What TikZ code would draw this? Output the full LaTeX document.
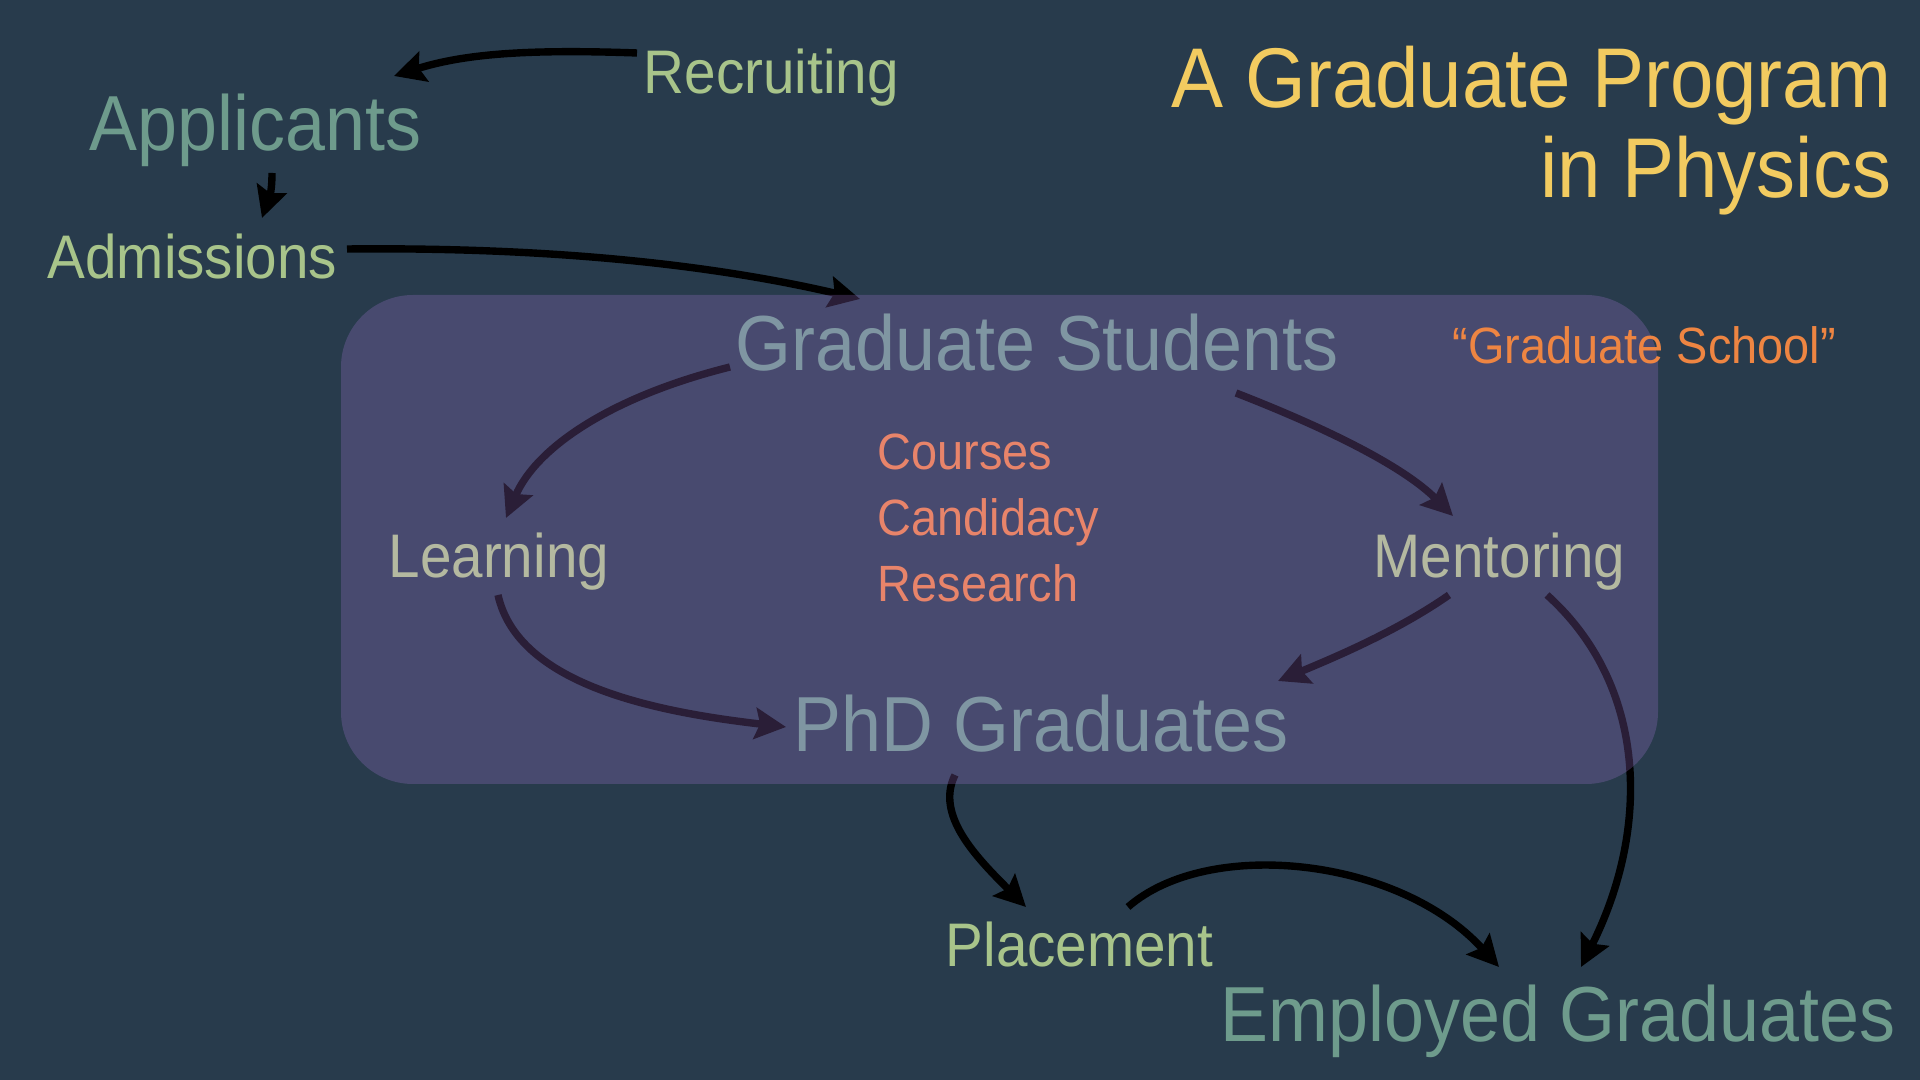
\documentclass[tikz,border=0pt]{standalone}
\usepackage{fontspec}
\setmainfont{Liberation Sans}[FakeStretch=0.92]
\usepackage{tikz}
\usetikzlibrary{arrows.meta}

\definecolor{bgcol}{RGB}{40,59,76}
\definecolor{boxcol}{RGB}{165,119,215}
\definecolor{titlecol}{RGB}{242,203,96}
\definecolor{tealcol}{RGB}{110,155,140}
\definecolor{greencol}{RGB}{168,196,138}
\definecolor{slatecol}{RGB}{127,150,162}
\definecolor{sagecol}{RGB}{180,185,160}
\definecolor{orangecol}{RGB}{238,133,66}
\definecolor{salmoncol}{RGB}{232,132,106}

\pgfdeclarelayer{bg}
\pgfdeclarelayer{arrows}
\pgfdeclarelayer{box}
\pgfsetlayers{bg,arrows,box,main}

\begin{document}
\begin{tikzpicture}[x=0.01cm, y=-0.01cm,
  lbl/.style={inner sep=0pt, anchor=base west},
  bigtext/.style={lbl, font=\fontsize{22.2}{26}\selectfont},
  midtext/.style={lbl, font=\fontsize{17.5}{21}\selectfont},
  smalltext/.style={lbl, font=\fontsize{14.5}{17}\selectfont},
  titletext/.style={inner sep=0pt, anchor=base east, text=titlecol,
                    font=\fontsize{24.1}{29}\selectfont},
  flow/.style={line width=2.1pt,
               -{Stealth[length=0.31cm, width=0.31cm, inset=0.05cm]}}]
  \useasboundingbox (0,0) rectangle (1920,1080);
  \begin{pgfonlayer}{bg}
    \fill[bgcol] (0,0) rectangle (1920,1080);
  \end{pgfonlayer}

  % title
  \node[titletext] (title1) at (1892,108) {A Graduate Program};
  \node[titletext] (title2) at (1892,198) {in Physics};

  % outside the school
  \node[midtext, text=greencol] (recruiting) at (643,94) {Recruiting};
  \node[bigtext, text=tealcol] (applicants) at (89,151) {Applicants};
  \node[midtext, text=greencol] (admissions) at (47,279) {Admissions};

  % inside the school
  \node[bigtext, text=slatecol] (grads) at (735,371) {Graduate Students};
  \node[smalltext, text=orangecol] (school) at (1452,364) {“Graduate School”};
  \node[smalltext, text=salmoncol] (courses) at (877,470) {Courses};
  \node[smalltext, text=salmoncol] (candidacy) at (877,536) {Candidacy};
  \node[smalltext, text=salmoncol] (research) at (877,602) {Research};
  \node[midtext, text=sagecol] (learning) at (388,578) {Learning};
  \node[midtext, text=sagecol] (mentoring) at (1373,578) {Mentoring};
  \node[bigtext, text=slatecol] (phd) at (793,752) {PhD Graduates};

  % after the school
  \node[midtext, text=greencol] (placement) at (945,967) {Placement};
  \node[bigtext, text=tealcol] (employed) at (1220,1042) {Employed Graduates};

  \begin{pgfonlayer}{box}
    \fill[boxcol, fill opacity=0.26, rounded corners=0.72cm]
      (341,295) rectangle (1658,784);
  \end{pgfonlayer}

  \begin{pgfonlayer}{arrows}
    \draw[flow] ([shift={(-6,-41)}]recruiting.base west)
      .. controls +(-110,-4) and +(70,-22) .. ([shift={(305,-75)}]applicants.base west);
    \draw[flow] ([shift={(183,22)}]applicants.base west)
      .. controls +(0,25) and +(5,-15) .. ([shift={(215,-61)}]admissions.base west);
    \draw[flow] ([shift={(300,-30)}]admissions.base west)
      .. controls +(200,-2) and +(-150,-35) .. ([shift={(125,-72)}]grads.base west);
    \draw[flow] ([shift={(-5,-4)}]grads.base west)
      .. controls +(-120,30) and +(30,-70) .. ([shift={(118,-60)}]learning.base west);
    \draw[flow] ([shift={(501,22)}]grads.base west)
      .. controls +(90,35) and +(-50,-50) .. ([shift={(80,-62)}]mentoring.base west);
    \draw[flow] ([shift={(110,17)}]learning.base west)
      .. controls +(20,90) and +(-130,-15) .. ([shift={(-7,-25)}]phd.base west);
    \draw[flow] ([shift={(76,17)}]mentoring.base west)
      .. controls +(-50,35) and +(60,-25) .. ([shift={(485,-71)}]phd.base west);
    \draw[flow] ([shift={(174,17)}]mentoring.base west)
      .. controls +(100,90) and +(70,-140) .. ([shift={(361,-75)}]employed.base west);
    \draw[flow] ([shift={(162,23)}]phd.base west)
      .. controls +(-20,40) and +(-50,-50) .. ([shift={(81,-60)}]placement.base west);
    \draw[flow] ([shift={(183,-60)}]placement.base west)
      .. controls +(80,-70) and +(-100,-110) .. ([shift={(279,-75)}]employed.base west);
  \end{pgfonlayer}
\end{tikzpicture}
\end{document}
